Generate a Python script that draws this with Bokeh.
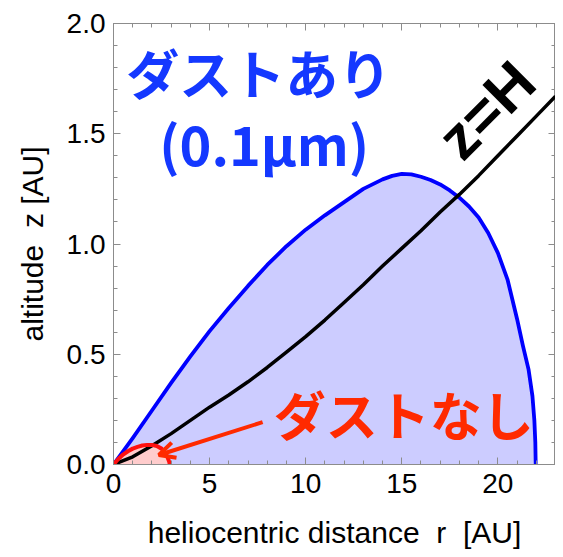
from bokeh.plotting import figure
from bokeh.models import (Range1d, SingleIntervalTicker, LinearAxis, Label, Arrow,
                          OpenHead, PrintfTickFormatter)
from bokeh.embed import file_html
from bokeh.resources import INLINE

# ---- data ----
# dust-laden (0.1 um) boundary
r_dust = [0, 1, 2, 3, 4, 5, 6, 7, 8, 9, 10, 11, 12, 13, 14, 14.5, 15, 15.5, 16, 16.5, 17,
          17.5, 18, 18.5, 19, 19.5, 20, 20.5, 21, 21.3, 21.6, 21.8, 21.9, 21.95, 21.97]
z_dust = [0, 0.12, 0.245, 0.37, 0.49, 0.605, 0.71, 0.81, 0.905, 0.99, 1.065, 1.13, 1.19,
          1.25, 1.293, 1.309, 1.318, 1.316, 1.305, 1.29, 1.27, 1.243, 1.21, 1.17, 1.12,
          1.05, 0.96, 0.84, 0.66, 0.54, 0.43, 0.31, 0.20, 0.10, 0.0]
# dust-free boundary
r_nodust = [0, 0.25, 0.5, 0.75, 1.0, 1.25, 1.5, 1.75, 2.0, 2.25, 2.5, 2.65, 2.8, 2.9, 2.93]
z_nodust = [0, 0.025, 0.045, 0.06, 0.072, 0.08, 0.086, 0.089, 0.089, 0.084, 0.072, 0.058,
            0.035, 0.012, 0.0]
# scale height z = H
r_H = [0, 1, 2, 3, 4, 5, 6, 7, 8, 9, 10, 11, 12, 13, 14, 15, 16, 17, 18, 19, 20, 21, 22, 23]
z_H = [0, 0.035, 0.085, 0.14, 0.20, 0.26, 0.315, 0.375, 0.44, 0.51, 0.58, 0.655, 0.735,
       0.815, 0.90, 0.98, 1.06, 1.145, 1.225, 1.31, 1.40, 1.49, 1.58, 1.67]

x_ticks_major = 5
y_ticks_major = 0.5

GRAY = "#8c8c8c"
BLUE_TXT = "#1438ff"
RED_TXT = "#ff2a00"
FONT = "Liberation Sans"
JP = "Noto Sans CJK JP"

p = figure(frame_width=442, frame_height=441,
           x_range=Range1d(0, 23), y_range=Range1d(0, 2),
           output_backend="svg", toolbar_location=None,
           min_border_left=113, min_border_top=23, min_border_right=0,
           min_border_bottom=10)
p.grid.visible = False
p.outline_line_color = GRAY
p.background_fill_color = "white"
p.border_fill_color = "white"


def style_axis(ax, ticker, show_labels=True):
    ax.ticker = ticker
    ax.axis_line_color = GRAY
    ax.major_tick_line_color = GRAY
    ax.minor_tick_line_color = GRAY
    ax.major_tick_in = 7
    ax.major_tick_out = 0
    ax.minor_tick_in = 4
    ax.minor_tick_out = 0
    if show_labels:
        ax.major_label_text_font = FONT
        ax.major_label_text_font_size = "28px"
        ax.major_label_text_color = "black"
        ax.axis_label_text_font = FONT
        ax.axis_label_text_font_size = "30px"
        ax.axis_label_text_font_style = "normal"
        ax.axis_label_text_color = "black"
    else:
        ax.major_label_text_color = None
        ax.major_label_standoff = 0


xt = SingleIntervalTicker(interval=x_ticks_major, num_minor_ticks=5)
yt = SingleIntervalTicker(interval=y_ticks_major, num_minor_ticks=5)

style_axis(p.xaxis[0], xt)
p.xaxis[0].axis_label = "heliocentric distance \u00a0r \u00a0[AU]"
p.xaxis[0].major_label_standoff = 9
p.xaxis[0].axis_label_standoff = 20

style_axis(p.yaxis[0], yt)
p.yaxis[0].axis_label = "altitude \u00a0z [AU]"
p.yaxis[0].formatter = PrintfTickFormatter(format="%.1f")
p.yaxis[0].major_label_standoff = 8
p.yaxis[0].axis_label_standoff = 15

top = LinearAxis()
style_axis(top, SingleIntervalTicker(interval=x_ticks_major, num_minor_ticks=5), False)
p.add_layout(top, "above")
right = LinearAxis()
style_axis(right, SingleIntervalTicker(interval=y_ticks_major, num_minor_ticks=5), False)
p.add_layout(right, "right")

# dust region
p.varea(x=r_dust, y1=[0] * len(r_dust), y2=z_dust, fill_color="#ccccff")
# dust-free region
p.varea(x=r_nodust, y1=[0] * len(r_nodust), y2=z_nodust, fill_color="#ffcccc")
p.line(r_dust, z_dust, line_color="#0000ff", line_width=3.8, line_join="round")
p.line(r_H, z_H, line_color="black", line_width=3.5, line_join="round")
p.line(r_nodust, z_nodust, line_color="#ff1010", line_width=4, line_join="round")

# annotations
p.add_layout(Label(x=7.56, y=1.779, text="ダストあり", text_font=JP, text_font_style="bold",
                   text_font_size="53px", text_color=BLUE_TXT, text_align="center",
                   text_baseline="middle"))
p.add_layout(Label(x=7.84, y=1.459, text="(0.1μm)", text_font=JP, text_font_style="bold",
                   text_font_size="54px", text_color=BLUE_TXT, text_align="center",
                   text_baseline="middle"))
p.add_layout(Label(x=19.41, y=1.607, text="z=H", text_font=FONT, text_font_style="bold",
                   text_font_size="60px", text_color="black", text_align="center",
                   text_baseline="middle", angle=0.785))
p.add_layout(Label(x=15.1, y=0.231, text="ダストなし", text_font=JP, text_font_style="bold",
                   text_font_size="52px", text_color=RED_TXT, text_align="center",
                   text_baseline="middle"))
p.add_layout(Arrow(end=OpenHead(line_color=RED_TXT, line_width=4, size=16),
                   x_start=7.76, y_start=0.192, x_end=2.36, y_end=0.043,
                   line_color=RED_TXT, line_width=4))

open("out.html", "w").write(file_html(p, INLINE))
